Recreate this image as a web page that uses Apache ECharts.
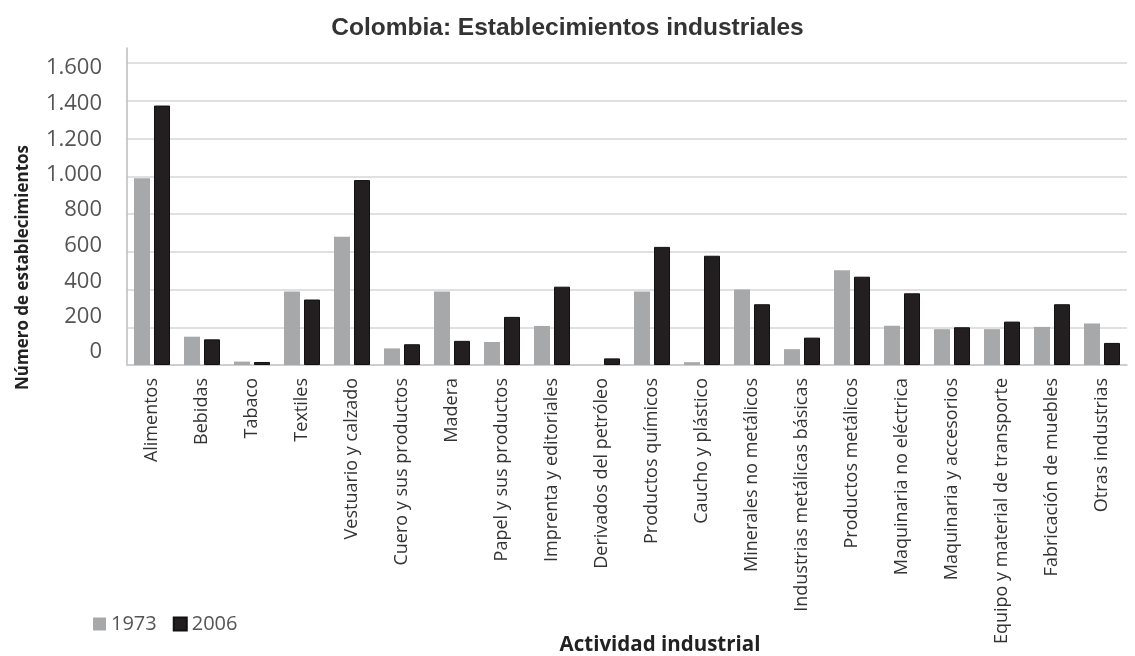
<!DOCTYPE html>
<html>
<head>
<meta charset="utf-8">
<script src="https://cdn.jsdelivr.net/npm/echarts@6/dist/echarts.min.js"></script>
<style>
html,body{margin:0;padding:0;background:#fff;}
#chart{width:1135px;height:656px;}
</style>
</head>
<body>
<div id="chart"></div>
<script>
var categories = [
  "Alimentos", "Bebidas", "Tabaco", "Textiles", "Vestuario y calzado",
  "Cuero y sus productos", "Madera", "Papel y sus productos", "Imprenta y editoriales",
  "Derivados del petróleo", "Productos químicos", "Caucho y plástico",
  "Minerales no metálicos", "Industrias metálicas básicas", "Productos metálicos",
  "Maquinaria no eléctrica", "Maquinaria y accesorios", "Equipo y material de transporte",
  "Fabricación de muebles", "Otras industrias"
];
var values1973 = [990, 150, 18, 390, 680, 88, 390, 122, 207, 0, 390, 15, 400, 84, 502, 208, 190, 190, 202, 220];
var values2006 = [1375, 136, 16, 347, 980, 110, 128, 255, 415, 35, 626, 579, 322, 145, 468, 380, 200, 230, 322, 117];
var yTicks = [0, 200, 400, 600, 800, 1000, 1200, 1400, 1600];
var seriesNames = ["1973", "2006"];

function fmt(v) {
  return String(v).replace(/\B(?=(\d{3})+(?!\d))/g, ".");
}

// per-label vertical nudges to mimic the reference label placement
var rich = {};
yTicks.forEach(function (v, i) {
  var s = Math.round(5 - (1600 - v) / 200 * 2.25);
  rich["s" + i] = {
    fontFamily: "Open Sans",
    fontSize: 22,
    color: "#555555",
    align: "right",
    padding: s >= 0 ? [2 * s, 0, 0, 0] : [0, 0, -2 * s, 0]
  };
});

var chart = echarts.init(document.getElementById("chart"), null, {renderer: "canvas"});
chart.setOption({
  backgroundColor: "#ffffff",
  animation: false,
  title: {
    text: "Colombia: Establecimientos industriales",
    left: "center",
    top: 11,
    textStyle: {fontFamily: "Liberation Sans", fontWeight: "bold", fontSize: 24.5, color: "#333333"}
  },
  legend: {
    data: seriesNames,
    left: 88,
    top: 609,
    icon: "rect",
    itemWidth: 13,
    itemHeight: 13,
    itemGap: 16,
    textStyle: {fontFamily: "Open Sans", fontSize: 20, color: "#555555"}
  },
  grid: {left: 127, right: 8, top: 48, bottom: 291, containLabel: false, outerBoundsMode: "none"},
  xAxis: {
    type: "category",
    data: categories,
    name: "Actividad industrial",
    nameLocation: "middle",
    nameGap: 270,
    nameMoveOverlap: false,
    nameTextStyle: {fontFamily: "Open Sans", fontWeight: "bold", fontSize: 20.5, color: "#222222", padding: [0, 0, 0, 66]},
    axisLine: {lineStyle: {color: "#c8c8c8", width: 1.5}},
    axisTick: {show: false},
    axisLabel: {
      interval: 0,
      rotate: 90,
      margin: 13,
      fontFamily: "Open Sans",
      fontSize: 18,
      color: "#333333"
    }
  },
  yAxis: {
    type: "value",
    min: 0,
    max: 1680,
    interval: 200,
    name: "Número de establecimientos",
    nameLocation: "middle",
    nameRotate: 90,
    nameGap: 95,
    nameMoveOverlap: false,
    nameTextStyle: {fontFamily: "Open Sans", fontWeight: "bold", fontSize: 17, color: "#222222", padding: [0, 122, 0, 0]},
    axisLine: {show: true, lineStyle: {color: "#bdbdbd", width: 1.5}},
    axisTick: {show: false},
    splitLine: {show: true, showMaxLine: false, lineStyle: {color: "#d6d6d6", width: 1.5}},
    axisLabel: {
      showMaxLabel: false,
      margin: 25,
      formatter: function (v) {
        var i = yTicks.indexOf(v);
        if (i < 0) return "";
        return "{s" + i + "|" + fmt(v) + "}";
      },
      rich: rich
    }
  },
  series: [
    {
      name: seriesNames[0],
      type: "bar",
      data: values1973,
      barWidth: 16,
      barGap: "25%",
      itemStyle: {color: "#a7a8aa"}
    },
    {
      name: seriesNames[1],
      type: "bar",
      data: values2006,
      barWidth: 16,
      barGap: "25%",
      itemStyle: {color: "#231f20", borderColor: "#111111", borderWidth: 1}
    }
  ]
});
</script>
</body>
</html>
